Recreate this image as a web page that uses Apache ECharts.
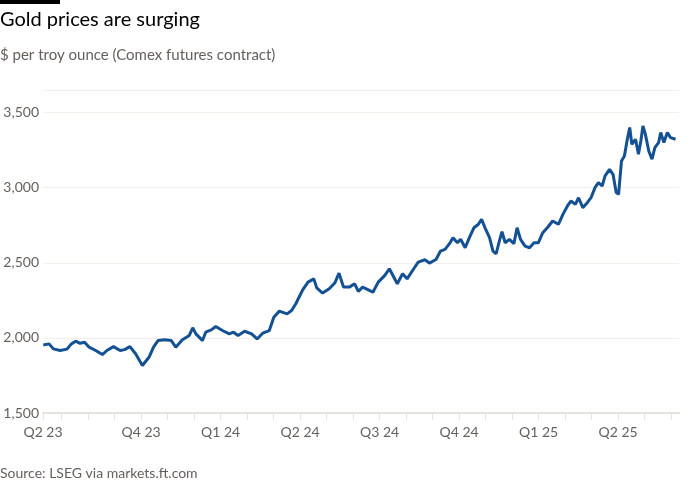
<!DOCTYPE html>
<html>
<head>
<meta charset="UTF-8">
<script src="https://cdn.jsdelivr.net/npm/echarts@6/dist/echarts.min.js"></script>
</head>
<body style="margin:0;background:#fff">
<div id="main" style="width:700px;height:500px;"></div>
<script>
// months counted from 1 Jul 2023 (0 = Jul 23, 21 = Apr 25)
var months = [-0.69,-0.47,-0.31,-0.05,0.20,0.37,0.53,0.70,0.87,1.04,1.29,1.54,1.71,1.96,2.21,2.38,2.58,2.80,3.05,3.30,3.47,3.64,3.89,4.14,4.31,4.56,4.82,4.95,5.07,5.32,5.44,5.65,5.82,6.07,6.33,6.49,6.66,6.91,7.17,7.38,7.59,7.84,8.01,8.22,8.51,8.68,8.84,9.10,9.30,9.52,9.63,9.85,10.10,10.31,10.47,10.64,10.86,11.06,11.20,11.36,11.58,11.75,11.95,12.20,12.37,12.54,12.67,12.87,13.04,13.29,13.46,13.71,13.88,14.13,14.30,14.47,14.64,14.77,14.94,15.06,15.23,15.39,15.56,15.73,15.85,15.98,16.15,16.28,16.40,16.52,16.62,16.74,16.90,17.07,17.19,17.32,17.49,17.66,17.83,17.99,18.16,18.33,18.53,18.75,18.92,19.09,19.22,19.39,19.51,19.67,19.84,19.98,20.13,20.26,20.40,20.51,20.68,20.81,20.93,21.02,21.13,21.24,21.35,21.44,21.52,21.66,21.77,21.86,21.94,22.03,22.16,22.28,22.39,22.53,22.61,22.73,22.86,22.98,23.17];
var prices = [1953,1960,1927,1916,1925,1960,1978,1964,1971,1938,1916,1889,1916,1942,1916,1922,1942,1893,1816,1871,1938,1982,1987,1982,1938,1987,2016,2067,2027,1982,2038,2053,2076,2049,2027,2038,2016,2044,2027,1993,2031,2049,2138,2178,2160,2182,2227,2320,2371,2393,2333,2298,2327,2365,2431,2338,2338,2360,2309,2338,2320,2304,2371,2416,2460,2404,2360,2427,2393,2460,2504,2520,2498,2522,2578,2589,2627,2667,2633,2656,2600,2667,2733,2756,2789,2733,2667,2578,2560,2644,2707,2633,2656,2627,2733,2656,2611,2600,2633,2633,2700,2733,2778,2756,2822,2878,2911,2889,2933,2867,2900,2933,3000,3033,3011,3078,3122,3089,2967,2956,3178,3211,3322,3400,3289,3322,3222,3311,3411,3356,3244,3189,3267,3300,3367,3300,3367,3333,3322];
var tickMonths = [-0.7,0,1,2,3,4,5,6,7,8,9,10,11,12,13,14,15,16,17,18,19,20,21,22,23];
var labelMonths = [-0.7,3,6,9,12,15,18,21];
var quarterLabels = ['Q2 23','Q4 23','Q1 24','Q2 24','Q3 24','Q4 24','Q1 25','Q2 25'];
var yTicks = [1500,2000,2500,3000,3500];

var data = months.map(function (m, i) { return [m, prices[i]]; });
var myChart = echarts.init(document.getElementById('main'));
myChart.setOption({
    animation: false,
    backgroundColor: '#fff',
    textStyle: {fontFamily: 'Lato, "Open Sans", sans-serif'},
    graphic: [
        {type: 'rect', left: 0, top: 0, shape: {width: 60, height: 4}, style: {fill: '#000'}},
        {type: 'text', left: 0, top: 10, style: {text: 'Gold prices are surging', fill: '#000', font: '20px Lato, sans-serif'}},
        {type: 'text', left: 0, top: 48, style: {text: '$ per troy ounce (Comex futures contract)', fill: '#66605c', font: '15px Lato, sans-serif'}},
        {type: 'text', left: 0, top: 466, style: {text: 'Source: LSEG via markets.ft.com', fill: '#66605c', font: '14px Lato, sans-serif'}}
    ],
    grid: {left: 43, right: 21, top: 90, bottom: 87},
    xAxis: {
        type: 'value',
        min: -0.7,
        max: 23.3,
        splitLine: {show: false},
        axisLine: {lineStyle: {color: '#e6e2dd', width: 2}},
        axisTick: {show: true, customValues: tickMonths, length: 7, lineStyle: {color: '#e6e2dd'}},
        axisLabel: {
            customValues: labelMonths,
            color: '#66605c',
            fontSize: 14,
            margin: 12,
            formatter: function (v) {
                var i = labelMonths.indexOf(v);
                return i >= 0 ? quarterLabels[i] : '';
            }
        }
    },
    yAxis: {
        type: 'value',
        min: 1500,
        max: 3650,
        axisLine: {show: false},
        axisTick: {show: false},
        splitLine: {lineStyle: {color: '#f2efec'}},
        axisLabel: {customValues: yTicks, color: '#66605c', fontSize: 14, margin: 4},
        splitNumber: 4
    },
    series: [{
        type: 'line',
        data: data,
        showSymbol: false,
        lineStyle: {color: '#135193', width: 3},
        itemStyle: {color: '#135193'}
    }]
});
</script>
</body>
</html>
